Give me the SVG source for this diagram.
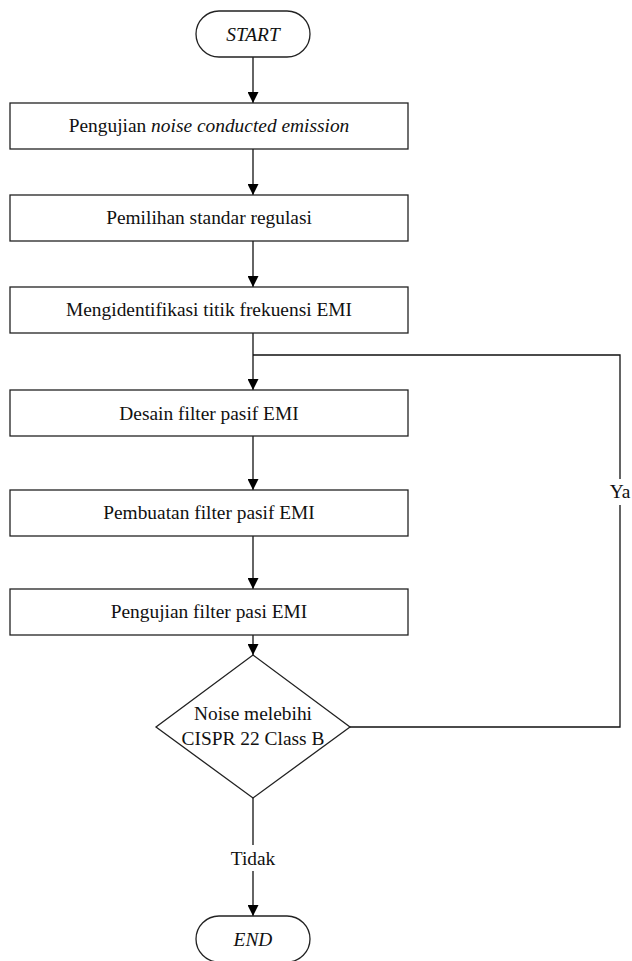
<svg xmlns="http://www.w3.org/2000/svg" width="632" height="961" viewBox="0 0 632 961" font-family="'Liberation Serif', 'Times New Roman', Tinos, 'DejaVu Serif', serif">
<style>
.shape{fill:#fff;stroke:#222;stroke-width:1.3}
.line{fill:none;stroke:#111;stroke-width:1.3}
text{font-family:'Liberation Serif','Times New Roman',Tinos,'DejaVu Serif',serif;font-size:19.4px;fill:#111;text-anchor:middle}
.it{font-style:italic}
</style>
<defs>
<marker id="arr" viewBox="0 0 11 11" refX="11" refY="5.5" markerWidth="11" markerHeight="11" markerUnits="userSpaceOnUse" orient="auto">
<path d="M0,0 L11,5.5 L0,11 Z" fill="#000"/>
</marker>
</defs>
<rect width="632" height="961" fill="#fff"/>
<g id="connectors">
<line class="line" x1="253" y1="57" x2="253" y2="103" marker-end="url(#arr)"/>
<line class="line" x1="253" y1="149" x2="253" y2="195" marker-end="url(#arr)"/>
<line class="line" x1="253" y1="241" x2="253" y2="287" marker-end="url(#arr)"/>
<line class="line" x1="253" y1="333" x2="253" y2="390" marker-end="url(#arr)"/>
<line class="line" x1="253" y1="436" x2="253" y2="490" marker-end="url(#arr)"/>
<line class="line" x1="253" y1="536" x2="253" y2="589" marker-end="url(#arr)"/>
<line class="line" x1="253" y1="635" x2="253" y2="655" marker-end="url(#arr)"/>
<polyline class="line" points="350,727 620,727 620,355 253,355"/>
<line class="line" x1="253" y1="798" x2="253" y2="916" marker-end="url(#arr)"/>
<rect x="604" y="479" width="32" height="26" fill="#fff"/>
<text x="620" y="498">Ya</text>
<rect x="222" y="845" width="62" height="26" fill="#fff"/>
<text x="253" y="865">Tidak</text>
</g>
<g id="start">
<rect class="shape" x="196" y="11" width="114" height="46" rx="23" ry="23"/>
<text class="it" x="253" y="41">START</text>
</g>
<g id="n1">
<rect class="shape" x="10" y="103" width="398" height="46"/>
<text x="209" y="132">Pengujian <tspan class="it">noise conducted emission</tspan></text>
</g>
<g id="n2">
<rect class="shape" x="10" y="195" width="398" height="46"/>
<text x="209" y="224">Pemilihan standar regulasi</text>
</g>
<g id="n3">
<rect class="shape" x="10" y="287" width="398" height="46"/>
<text x="209" y="316">Mengidentifikasi titik frekuensi EMI</text>
</g>
<g id="n4">
<rect class="shape" x="10" y="390" width="398" height="46"/>
<text x="209" y="420">Desain filter pasif EMI</text>
</g>
<g id="n5">
<rect class="shape" x="10" y="490" width="398" height="46"/>
<text x="209" y="519">Pembuatan filter pasif EMI</text>
</g>
<g id="n6">
<rect class="shape" x="10" y="589" width="398" height="46"/>
<text x="209" y="618">Pengujian filter pasi EMI</text>
</g>
<g id="decision">
<polygon class="shape" points="253,655 350,727 253,798 156,727"/>
<text x="253" y="720">Noise melebihi</text>
<text x="253" y="745">CISPR 22 Class B</text>
</g>
<g id="end">
<rect class="shape" x="196" y="916" width="114" height="46" rx="23" ry="23"/>
<text class="it" x="253" y="946">END</text>
</g>
</svg>
